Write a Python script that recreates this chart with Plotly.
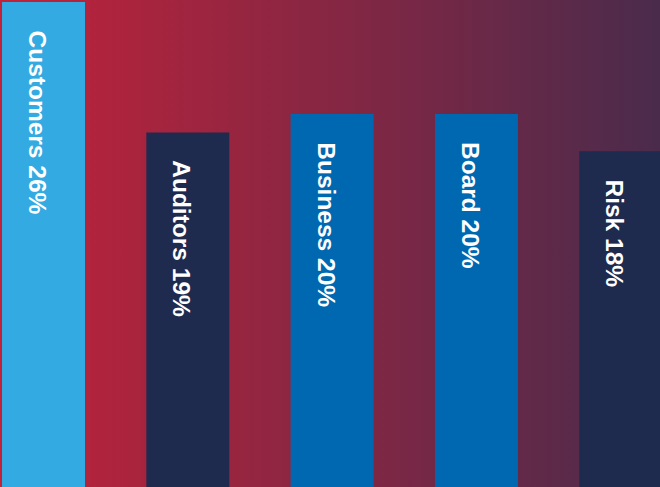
import base64
import plotly.graph_objects as go

# Stakeholder share by group
categories = ["Customers", "Auditors", "Business", "Board", "Risk"]
values = [26, 19, 20, 20, 18]
bar_colors = ["#33abe2", "#1f2a4f", "#0068b0", "#0068b0", "#1f2a4f"]

W, H = 660, 487

# Horizontal red-to-plum gradient used as the backdrop
svg = (
    '<svg xmlns="http://www.w3.org/2000/svg" width="660" height="487" '
    'preserveAspectRatio="none">'
    '<defs><linearGradient id="g" x1="0" y1="0" x2="1" y2="0">'
    '<stop offset="0" stop-color="#c2223a"/>'
    '<stop offset="1" stop-color="#4a2b4c"/>'
    '</linearGradient></defs>'
    '<rect width="660" height="487" fill="url(#g)"/></svg>'
)
bg_src = "data:image/svg+xml;base64," + base64.b64encode(svg.encode()).decode()

fig = go.Figure(
    go.Bar(
        x=categories,
        y=values,
        width=0.575,
        marker=dict(color=bar_colors, line=dict(width=0)),
        hoverinfo="skip",
    )
)

for c, v in zip(categories, values):
    fig.add_annotation(
        x=c,
        y=v,
        xref="x",
        yref="y",
        text=f"<b>{c} {v}%</b>",
        textangle=90,
        showarrow=False,
        xanchor="center",
        yanchor="top",
        xshift=-6,
        yshift=-26,
        font=dict(family="Arial, Liberation Sans, sans-serif", size=24.5, color="white"),
    )

fig.add_layout_image(
    source=bg_src,
    xref="paper",
    yref="paper",
    x=0,
    y=1,
    sizex=1,
    sizey=1,
    xanchor="left",
    yanchor="top",
    sizing="stretch",
    layer="below",
)

fig.update_layout(
    width=W,
    height=H,
    margin=dict(l=0, r=0, t=0, b=0),
    paper_bgcolor="rgba(0,0,0,0)",
    plot_bgcolor="rgba(0,0,0,0)",
    showlegend=False,
    xaxis=dict(range=[-0.3015, 4.272], visible=False, fixedrange=True),
    yaxis=dict(range=[0, 26.107], visible=False, fixedrange=True),
)

fig.write_html("out.html", config={"displayModeBar": False})
